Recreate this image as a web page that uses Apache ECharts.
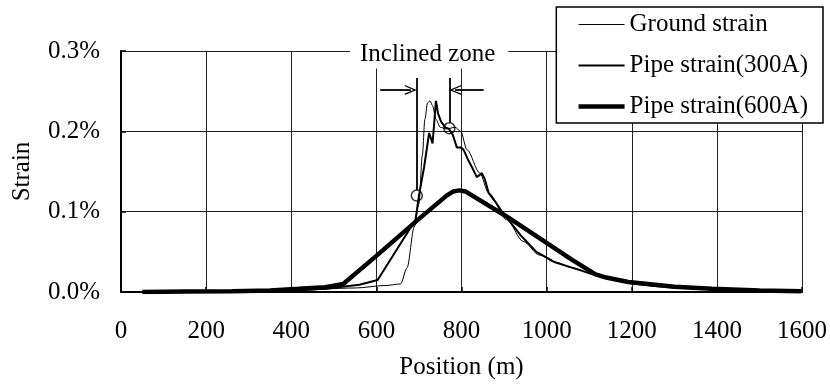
<!DOCTYPE html>
<html>
<head>
<meta charset="utf-8">
<script src="https://cdn.jsdelivr.net/npm/echarts@6/dist/echarts.min.js"></script>
<style>
  html, body { margin: 0; padding: 0; background: #fff; }
  #strain-chart { width: 830px; height: 391px; }
</style>
</head>
<body>
<div id="strain-chart"></div>
<script>
// data (position in m, strain in %)
var groundPos = [50, 200, 400, 550, 620, 657, 672, 689, 700, 708, 714, 720, 726, 732, 740, 750, 765, 785, 798, 813, 843, 864, 906, 945, 983, 1020, 1061, 1115, 1160, 1200, 1255, 1300, 1400, 1500, 1600];
var groundStrain = [0, 0.0005, 0.002, 0.005, 0.008, 0.01, 0.03, 0.081, 0.11, 0.17, 0.215, 0.235, 0.238, 0.232, 0.215, 0.205, 0.203, 0.205, 0.2, 0.177, 0.148, 0.123, 0.09, 0.063, 0.046, 0.037, 0.03, 0.021, 0.015, 0.011, 0.0075, 0.0055, 0.003, 0.0015, 0.001];

var pipe300Pos = [50, 200, 400, 480, 560, 603, 692, 700, 712, 724, 732, 740, 745, 752, 762, 771, 780, 789, 798, 805, 815, 825, 836, 848, 855, 864, 880, 895, 910, 940, 976, 1020, 1061, 1115, 1160, 1200, 1255, 1300, 1400, 1500, 1600];
var pipe300Strain = [0, 0.0005, 0.002, 0.004, 0.009, 0.015, 0.09, 0.12, 0.155, 0.198, 0.185, 0.238, 0.222, 0.212, 0.205, 0.203, 0.195, 0.18, 0.18, 0.177, 0.165, 0.155, 0.143, 0.148, 0.14, 0.123, 0.112, 0.1, 0.09, 0.07, 0.05, 0.037, 0.03, 0.021, 0.015, 0.011, 0.0075, 0.0055, 0.003, 0.0015, 0.001];

var pipe600Pos = [50, 150, 261, 350, 417, 480, 522, 600, 700, 765, 780, 795, 810, 906, 992, 1060, 1115, 1140, 1192, 1255, 1300, 1388, 1500, 1598];
var pipe600Strain = [0, 0.0005, 0.001, 0.002, 0.004, 0.006, 0.01, 0.045, 0.091, 0.12, 0.125, 0.1265, 0.125, 0.094, 0.064, 0.04, 0.022, 0.018, 0.0125, 0.009, 0.0065, 0.004, 0.002, 0.001];

// inclined zone boundaries (circles on the 300A curve)
var zonePos = [695, 771.5];
var zoneStrain = [0.12, 0.2038];
var zoneTop = 0.2665;
var arrowLevel = 0.2515;
var zoneLabel = 'Inclined zone';

var xTicks = { min: 0, max: 1600, interval: 200 };
var yTicks = { min: 0, max: 0.3, interval: 0.1 };

function pairs(xs, ys) {
    return xs.map((x, i) => [x, ys[i]]);
}

var font = 'Liberation Serif';
var fontSize = 25;
var widths = { ground: 1, p300: 2, p600: 4.5 };
var chevron = 'path://M0,12 L5,0 L10,12 L8.6,12 L5,3.2 L1.4,12 Z';

const strainChart = echarts.init(document.getElementById('strain-chart'));

var option = {
    animation: false,
    backgroundColor: '#fff',
    textStyle: { fontFamily: font, color: '#000' },
    grid: { left: 121, right: 22, top: 51, bottom: 99 },
    legend: {
        data: [
            { name: 'Ground strain', lineStyle: { width: widths.ground } },
            { name: 'Pipe strain(300A)', lineStyle: { width: widths.p300 } },
            { name: 'Pipe strain(600A)', lineStyle: { width: widths.p600 } }
        ],
        orient: 'vertical',
        right: 7,
        top: 7,
        backgroundColor: '#fff',
        borderColor: '#000',
        borderWidth: 1.5,
        padding: [5, 15, 4, 20],
        itemWidth: 46,
        itemHeight: 24,
        itemGap: 16,
        itemStyle: { opacity: 0 },
        textStyle: { fontFamily: font, fontSize: fontSize, color: '#000', lineHeight: 25 }
    },
    xAxis: {
        type: 'value',
        min: xTicks.min,
        max: xTicks.max,
        interval: xTicks.interval,
        name: 'Position (m)',
        nameLocation: 'middle',
        nameGap: 63,
        nameTextStyle: { fontFamily: font, fontSize: fontSize, color: '#000' },
        axisLine: { lineStyle: { color: '#000', width: 2 } },
        axisTick: { inside: true, length: 5, lineStyle: { color: '#000', width: 1.5 } },
        axisLabel: {
            fontFamily: font, fontSize: fontSize, color: '#000', margin: 27,
            formatter: v => String(v)
        },
        splitLine: { show: true, lineStyle: { color: '#222', width: 1 } }
    },
    yAxis: {
        type: 'value',
        min: yTicks.min,
        max: yTicks.max,
        interval: yTicks.interval,
        name: 'Strain',
        nameLocation: 'middle',
        nameGap: 86,
        nameRotate: 90,
        nameTextStyle: { fontFamily: font, fontSize: fontSize, color: '#000' },
        axisLine: { show: true, lineStyle: { color: '#000', width: 2 } },
        axisTick: { show: true, inside: true, length: 5, lineStyle: { color: '#000', width: 1.5 } },
        axisLabel: {
            fontFamily: font, fontSize: fontSize, color: '#000', margin: 21,
            formatter: v => v.toFixed(1) + '%'
        },
        splitLine: { show: true, lineStyle: { color: '#222', width: 1 } }
    },
    series: [
        {
            name: 'Ground strain',
            type: 'line',
            data: pairs(groundPos, groundStrain),
            symbol: 'none',
            smooth: 0.3,
            smoothMonotone: 'x',
            lineStyle: { color: '#000', width: widths.ground },
            itemStyle: { color: '#000' },
            z: 3
        },
        {
            name: 'Pipe strain(300A)',
            type: 'line',
            data: pairs(pipe300Pos, pipe300Strain),
            symbol: 'none',
            lineStyle: { color: '#000', width: widths.p300 },
            itemStyle: { color: '#000' },
            z: 4
        },
        {
            name: 'Pipe strain(600A)',
            type: 'line',
            data: pairs(pipe600Pos, pipe600Strain),
            symbol: 'none',
            lineStyle: { color: '#000', width: widths.p600 },
            itemStyle: { color: '#000' },
            z: 5
        },
        {
            type: 'scatter',
            data: pairs(zonePos, zoneStrain),
            symbol: 'circle',
            symbolSize: 11,
            itemStyle: { color: 'rgba(255,255,255,0)', borderColor: '#000', borderWidth: 1.5 },
            z: 6,
            silent: true,
            markLine: {
                silent: true,
                animation: false,
                label: { show: false },
                lineStyle: { color: '#000', width: 1.8, type: 'solid' },
                symbol: ['none', 'none'],
                data: [
                    [{ coord: [zonePos[0], zoneStrain[0] + 0.007] }, { coord: [zonePos[0], zoneTop] }],
                    [{ coord: [zonePos[1], zoneStrain[1] + 0.007] }, { coord: [zonePos[1], zoneTop] }],
                    [
                        { coord: [609, arrowLevel], symbol: 'none' },
                        { coord: [681, arrowLevel], symbol: chevron, symbolSize: [10, 12] }
                    ],
                    [
                        { coord: [852, arrowLevel], symbol: 'none' },
                        { coord: [785, arrowLevel], symbol: chevron, symbolSize: [10, 12] }
                    ]
                ]
            },
            markPoint: {
                silent: true,
                symbol: 'rect',
                symbolSize: 0,
                data: [{ coord: [724, yTicks.max] }],
                label: {
                    show: true,
                    position: 'inside',
                    formatter: zoneLabel,
                    fontFamily: font,
                    fontSize: fontSize,
                    color: '#000',
                    backgroundColor: '#fff',
                    padding: [2, 13, 2, 10],
                    offset: [0, 3]
                }
            }
        }
    ]
};

option && strainChart.setOption(option);
</script>
</body>
</html>
